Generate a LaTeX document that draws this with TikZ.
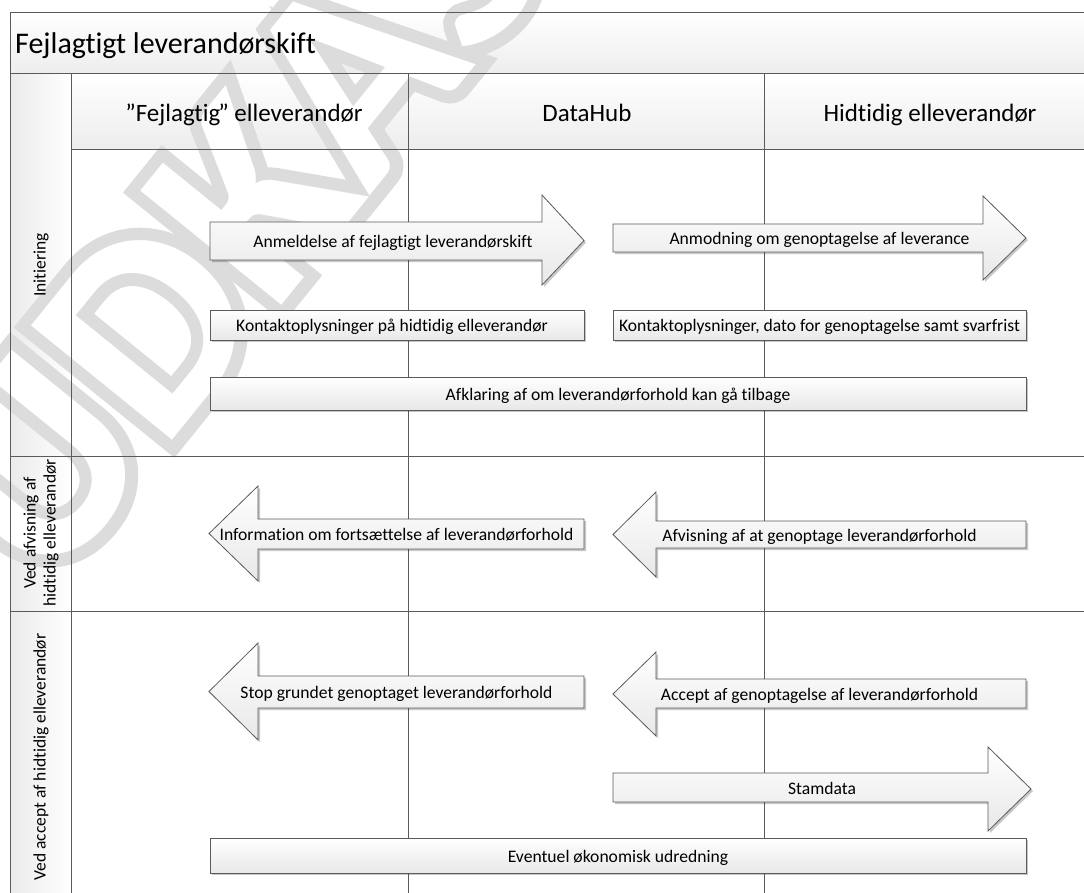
\documentclass[tikz,border=0pt]{standalone}
\usepackage{fontspec}
\setmainfont{Carlito}[Ligatures={NoCommon}]
\newfontfamily\wmgrey{Carlito Bold}[FakeBold=9]
\newfontfamily\wmwhite{Carlito Bold}
\usetikzlibrary{shadows}
\definecolor{ln}{RGB}{90,90,90}
\definecolor{wm}{RGB}{220,220,220}
\definecolor{bfill}{RGB}{232,232,232}
\begin{document}
\begin{tikzpicture}[x=1pt,y=-1pt,
  lane/.style={draw=ln, line width=0.9pt},
  shp/.style={draw=ln, line width=0.8pt, top color=white, bottom color=bfill,
    drop shadow={shadow xshift=2pt, shadow yshift=-2pt, fill=black, opacity=0.22}},
  lbl/.style={font=\fontsize{17.6}{20}\selectfont, anchor=base, inner sep=0pt},
  hdr/.style={font=\fontsize{25}{30}\selectfont, anchor=base, inner sep=0pt},
  rowlbl/.style={font=\fontsize{17.5}{20}\selectfont, rotate=90, align=center, inner sep=0pt},
  wmtext/.style={rotate=51, inner sep=0pt}
]
\useasboundingbox (0,0) rectangle (1084,892);
\clip (0,0) rectangle (1084,892);

% backgrounds
\shade[top color=white, bottom color=black!7] (10,12) rectangle (1090,73);
\shade[top color=white, bottom color=black!7] (71,73) rectangle (1090,149);
\shade[left color=black!8, right color=white] (10,73) rectangle (71,900);

% watermark (outlined letters)
\node[wmtext, text=wm, font=\wmgrey\fontsize{280}{280}\selectfont] (wmo) at (276,168) {UDKAST};
\node[wmtext, text=white, font=\wmwhite\fontsize{280}{280}\selectfont] (wmi) at (276,168) {UDKAST};

% frame and lanes
\coordinate (fl) at (10,900);
\coordinate (ftl) at (10,12);
\coordinate (ftr) at (1090,12);
\draw[lane] (fl) -- (ftl) -- (ftr);
\draw[lane] (10,73) -- (1090,73);
\draw[lane] (71,149) -- (1090,149);
\draw[lane] (71,73) -- (71,900);
\draw[lane] (10,456) -- (1090,456);
\draw[lane] (10,611) -- (1090,611);
\coordinate (l1t) at (408.5,73);
\coordinate (l1b) at (408.5,900);
\coordinate (l2t) at (764.5,73);
\coordinate (l2b) at (764.5,900);
\draw[lane] (l1t) -- (l1b);
\draw[lane] (l2t) -- (l2b);

% title and headers
\node[font=\fontsize{30}{34}\selectfont, anchor=base west, inner sep=0pt] (title) at (15,53) {Fejlagtigt leverandørskift};
\node[hdr] (h1) at (244,121) {”Fejlagtig\kern-2pt” elleverandør};
\node[hdr] (h2) at (587,121) {DataHub};
\node[hdr] (h3) at (930,121) {Hidtidig elleverandør};

% row labels
\node[rowlbl] (r1) at (41,265) {Initiering};
\node[rowlbl] (r2) at (41,533) {Ved afvisning af\\hidtidig elleverandør};
\node[rowlbl] (r3) at (41,757) {Ved accept af hidtidig elleverandør};

% Initiering
\draw[shp] (210,222) -- (542,222) -- (542,195) -- (584,240.5) -- (542,285) -- (542,260) -- (210,260) -- cycle;
\node[lbl] (a1) at (393,247) {Anmeldelse af fejlagtigt leverandørskift};
\draw[shp] (613,224) -- (983,224) -- (983,196) -- (1026,238) -- (983,280) -- (983,252) -- (613,252) -- cycle;
\node[lbl] (a2) at (819.5,244.5) {Anmodning om genoptagelse af leverance};
\draw[shp] (210,310) rectangle (584,340);
\node[lbl] (b1) at (392,331.5) {Kontaktoplysninger på hidtidig elleverandør};
\draw[shp] (613,310) rectangle (1026,340);
\node[lbl] (b2) at (819.5,331.5) {Kontaktoplysninger, dato for genoptagelse samt svarfrist};
\draw[shp] (210,377) rectangle (1026,410);
\node[lbl] (b3) at (618,400) {Afklaring af om leverandørforhold kan gå tilbage};

% Ved afvisning
\draw[shp] (209,533.5) -- (258,486) -- (258,519) -- (584,519) -- (584,549) -- (258,549) -- (258,581) -- cycle;
\node[lbl] (a3) at (396.5,540.5) {Information om fortsættelse af leverandørforhold};
\draw[shp] (613,534.5) -- (656,492) -- (656,521) -- (1026,521) -- (1026,548) -- (656,548) -- (656,577) -- cycle;
\node[lbl] (a4) at (819.5,541) {Afvisning af at genoptage leverandørforhold};

% Ved accept
\draw[shp] (209,691.5) -- (258,643) -- (258,676) -- (584,676) -- (584,708) -- (258,708) -- (258,740) -- cycle;
\node[lbl] (a5) at (396.5,698.5) {Stop grundet genoptaget leverandørforhold};
\draw[shp] (613,694) -- (656,652) -- (656,679) -- (1026,679) -- (1026,708) -- (656,708) -- (656,736) -- cycle;
\node[lbl] (a6) at (819.5,700) {Accept af genoptagelse af leverandørforhold};
\draw[shp] (613,773) -- (988,773) -- (988,747) -- (1031,789) -- (988,831) -- (988,802) -- (613,802) -- cycle;
\node[lbl] (a7) at (822,794) {Stamdata};
\draw[shp] (210,838) rectangle (1026,873);
\node[lbl] (b4) at (618,862) {Eventuel økonomisk udredning};
\end{tikzpicture}
\end{document}
